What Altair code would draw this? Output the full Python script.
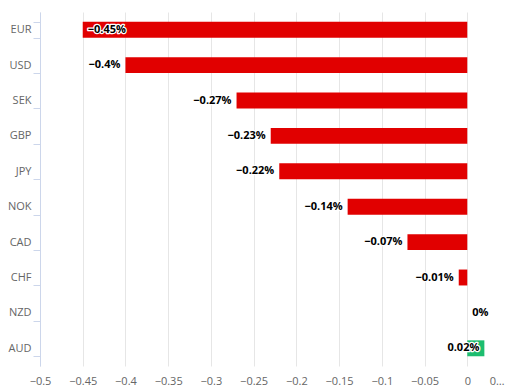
import altair as alt
import pandas as pd

currencies = ["EUR", "USD", "SEK", "GBP", "JPY", "NOK", "CAD", "CHF", "NZD", "AUD"]
changes = [-0.45, -0.4, -0.27, -0.23, -0.22, -0.14, -0.07, -0.01, 0.0, 0.02]
labels = [f"{v:g}%".replace("-", "\u2212") for v in changes]
x_ticks = [-0.5, -0.45, -0.4, -0.35, -0.3, -0.25, -0.2, -0.15, -0.1, -0.05, 0, 0.05]

df = pd.DataFrame({"cur": currencies, "value": changes, "label": labels})

FONT = "Open Sans"

x_scale = alt.Scale(domain=[-0.5, 0.05], nice=False, zero=False, range=[0, 470])
y_scale = alt.Scale(paddingInner=0.55, paddingOuter=0.275)

x_enc = alt.X(
    "value:Q",
    scale=x_scale,
    axis=alt.Axis(
        values=x_ticks,
        title=None,
        domain=False,
        ticks=False,
        grid=True,
        gridColor="#e6e6e6",
        labelColor="#666666",
        labelFontSize=11,
        labelFont=FONT,
        labelPadding=9,
        labelExpr="datum.value > 0.04 ? '0\u2026' : replace(format(datum.value, ''), '-', '\u2212')",
        labelAlign={"condition": {"test": "datum.value > 0.04", "value": "right"}, "value": "center"},
        labelOffset={"condition": {"test": "datum.value > 0.04", "value": -6}, "value": 0},
        labelFlush=False,
        labelOverlap=False,
    ),
)
y_enc = alt.Y(
    "cur:N",
    sort=None,
    scale=y_scale,
    axis=alt.Axis(
        title=None,
        domainColor="#ccd6eb",
        tickColor="#ccd6eb",
        tickSize=7,
        tickBand="extent",
        labelColor="#666666",
        labelFontSize=11,
        labelFont=FONT,
        labelPadding=2,
        grid=False,
    ),
)

base = alt.Chart(df)

bars = base.mark_bar().encode(
    x=x_enc,
    x2=alt.datum(0),
    y=y_enc,
    color=alt.condition("datum.value >= 0", alt.value("#1dbd6f"), alt.value("#e10000")),
)

right_f = "!(datum.value < -0.44 || datum.value == 0)"
left_f = "datum.value < -0.44 || datum.value == 0"

def lbl(filt, align, dx, halo):
    kw = dict(align=align, baseline="middle", dx=dx, font=FONT, fontSize=11, fontWeight="bold")
    if halo:
        kw.update(stroke="white", strokeWidth=2.5, strokeJoin="round", fill="white")
    else:
        kw.update(fill="black")
    return base.transform_filter(filt).mark_text(**kw).encode(
        x=alt.X("value:Q", scale=x_scale),
        y=alt.Y("cur:N", sort=None, scale=y_scale),
        text="label:N",
    )

chart = alt.layer(
    bars,
    lbl(right_f, "right", -5, True),
    lbl(left_f, "left", 5, True),
    lbl(right_f, "right", -5, False),
    lbl(left_f, "left", 5, False),
).properties(
    width=465,
    height=354,
    padding={"left": 32, "top": 4, "right": 0, "bottom": 28},
    autosize=alt.AutoSizeParams(type="none"),
).configure_view(stroke=None)

chart.save("out.html", embed_options={"renderer": "svg", "actions": False})
